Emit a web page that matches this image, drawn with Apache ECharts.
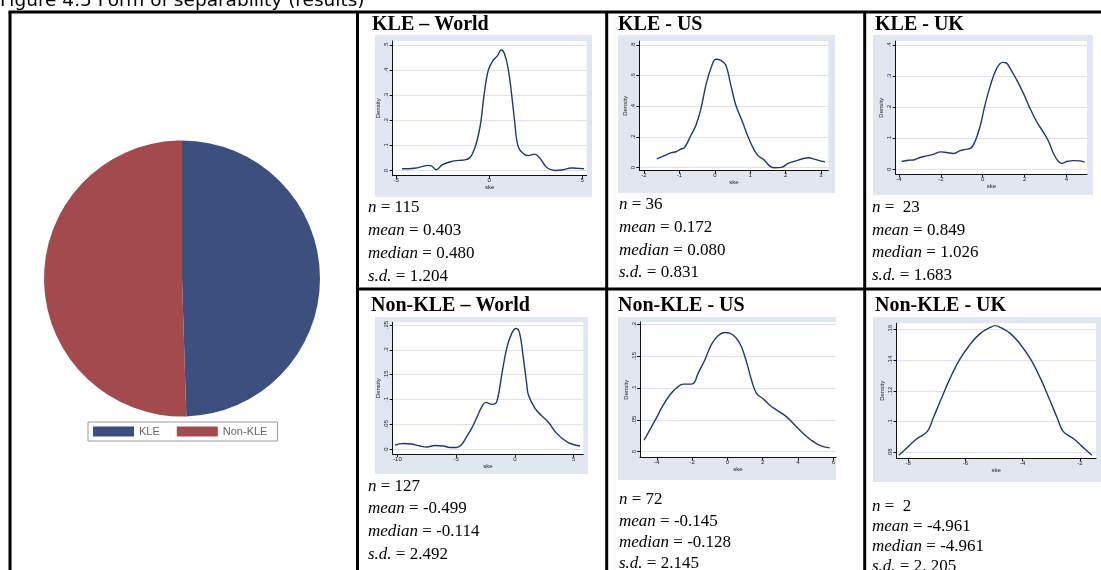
<!DOCTYPE html>
<html><head><meta charset="utf-8">
<script src="https://cdn.jsdelivr.net/npm/echarts@6/dist/echarts.min.js"></script>
<style>html,body{margin:0;padding:0;background:#fff}#c{width:1101px;height:570px}</style>
</head><body><div id="c"></div><script>
// ---------- data ----------
const pieCategories = ['KLE', 'Non-KLE'];
const pieShares = [49.5, 50.5];

const panelTitles = ['KLE \u2013 World', 'KLE - US', 'KLE - UK', 'Non-KLE \u2013 World', 'Non-KLE - US', 'Non-KLE - UK'];

const kleWorldX = [-4.68,-4.0,-3.55,-3.3,-3.1,-2.85,-2.5,-2.0,-1.6,-1.3,-1.03,-0.85,-0.72,-0.55,-0.43,-0.27,-0.04,0.2,0.45,0.65,0.83,1.04,1.22,1.37,1.55,1.8,2.1,2.45,2.75,3.1,3.55,4.0,4.4,4.65,5.1];
const kleWorldY = [0.008,0.010,0.017,0.021,0.019,0.004,0.024,0.037,0.041,0.043,0.052,0.075,0.100,0.150,0.200,0.300,0.400,0.437,0.457,0.480,0.465,0.400,0.300,0.200,0.100,0.070,0.060,0.066,0.048,0.013,0.001,0.004,0.011,0.010,0.008];

const kleUsX = [-1.64,-1.42,-1.23,-1.09,-0.98,-0.86,-0.67,-0.53,-0.39,-0.25,-0.11,0.03,0.17,0.31,0.45,0.59,0.78,0.96,1.2,1.38,1.57,1.71,1.88,2.07,2.27,2.46,2.64,2.83,3.0,3.11];
const kleUsY = [0.057,0.078,0.098,0.104,0.120,0.130,0.213,0.278,0.387,0.540,0.648,0.707,0.700,0.670,0.540,0.410,0.300,0.190,0.083,0.054,0.007,0.000,0.002,0.028,0.043,0.057,0.065,0.054,0.043,0.039];

const kleUkX = [-3.87,-3.55,-3.31,-3.0,-2.68,-2.36,-2.01,-1.72,-1.4,-1.08,-0.84,-0.57,-0.37,-0.13,0.11,0.35,0.67,0.96,1.11,1.31,1.63,1.94,2.26,2.58,2.9,3.14,3.38,3.62,3.78,4.02,4.34,4.66,4.87];
const kleUkY = [0.025,0.029,0.030,0.038,0.043,0.048,0.056,0.054,0.051,0.060,0.064,0.068,0.089,0.137,0.207,0.266,0.325,0.344,0.343,0.325,0.287,0.245,0.196,0.153,0.119,0.091,0.051,0.025,0.019,0.025,0.028,0.027,0.023];

const nonKleWorldX = [-10.2,-9.49,-8.78,-8.07,-7.5,-6.8,-6.09,-5.52,-4.95,-4.53,-4.1,-3.67,-3.25,-2.82,-2.48,-1.92,-1.55,-1.12,-0.7,-0.27,0.07,0.38,0.72,1.0,1.15,1.71,2.28,2.85,3.42,3.98,4.55,5.12,5.54];
const nonKleWorldY = [0.008,0.011,0.010,0.006,0.004,0.007,0.006,0.003,0.003,0.009,0.025,0.042,0.063,0.085,0.094,0.090,0.095,0.150,0.203,0.233,0.243,0.235,0.183,0.132,0.109,0.082,0.067,0.054,0.035,0.022,0.013,0.008,0.006];

const nonKleUsX = [-4.72,-4.4,-4.02,-3.64,-3.26,-2.89,-2.51,-2.23,-1.94,-1.66,-1.28,-0.91,-0.53,-0.15,0.13,0.51,0.79,1.08,1.36,1.64,2.02,2.4,2.87,3.34,3.81,4.28,4.75,5.23,5.79];
const nonKleUsY = [0.018,0.034,0.053,0.073,0.089,0.100,0.106,0.106,0.107,0.123,0.144,0.168,0.182,0.187,0.186,0.178,0.165,0.141,0.113,0.092,0.083,0.073,0.064,0.055,0.042,0.029,0.018,0.010,0.006];

const nonKleUkX = [-8.33,-8.0,-7.71,-7.34,-7.13,-6.89,-6.54,-6.19,-5.84,-5.49,-5.14,-4.96,-4.78,-4.43,-4.08,-3.73,-3.38,-3.03,-2.79,-2.58,-2.21,-1.92,-1.58];
const nonKleUkY = [0.0782,0.0838,0.0887,0.0935,0.1022,0.1129,0.1280,0.1406,0.1500,0.1570,0.1610,0.1622,0.1610,0.1570,0.1500,0.1406,0.1280,0.1129,0.1022,0.0935,0.0887,0.0838,0.0782];

const xTicks = [[-5,0,5],[-2,-1,0,1,2,3],[-4,-2,0,2,4],[-10,-5,0,5],[-4,-2,0,2,4,6],[-8,-6,-4,-2]];
const yTicks = [[0,0.1,0.2,0.3,0.4,0.5],[0,0.2,0.4,0.6,0.8],[0,0.1,0.2,0.3,0.4],[0,0.05,0.1,0.15,0.2,0.25],[0,0.05,0.1,0.15,0.2],[0.08,0.1,0.12,0.14,0.16]];

const statN = ['115', '36', ' 23', '127', '72', ' 2'];
const statMean = ['0.403', '0.172', '0.849', '-0.499', '-0.145', '-4.961'];
const statMedian = ['0.480', '0.080', '1.026', '-0.114', '-0.128', '-4.961'];
const statSd = ['1.204', '0.831', '1.683', '2.492', '2.145', '2. 205'];

// ---------- layout (positions / styles) ----------
const curves = [[kleWorldX,kleWorldY],[kleUsX,kleUsY],[kleUkX,kleUkY],[nonKleWorldX,nonKleWorldY],[nonKleUsX,nonKleUsY],[nonKleUkX,nonKleUkY]];
const L = [
  {grid:[392.7,41,194,134.7], xr:[-5.18,5.25], yr:[-0.0199,0.516], bg:[375,35,217,162], head:[372,25], sx:368, sy:[208,231,254,277]},
  {grid:[639.3,41,189,129.7], xr:[-2.133,3.206], yr:[-0.0196,0.826], bg:[618,35,217,158], head:[618,25], sx:619, sy:[205,228,251,273]},
  {grid:[895.7,41,191.3,133.3], xr:[-4.157,4.983], yr:[-0.0161,0.4129], bg:[873,35,220,160], head:[875,25], sx:872, sy:[208,231,253,276]},
  {grid:[392.7,322.3,190.6,131.7], xr:[-10.4,5.82], yr:[-0.0101,0.2554], bg:[375,317,213,157], head:[371,305.5], sx:368, sy:[487,509,532,555]},
  {grid:[640,322,196,135.3], xr:[-4.95,6.15], yr:[-0.0088,0.2036], bg:[618,317,218,163], head:[618,305.5], sx:619, sy:[500,522,543,564]},
  {grid:[896.5,323.3,199.5,135], xr:[-8.41,-1.44], yr:[0.07624,0.1637], bg:[873,317,228,165], head:[875,305.5], sx:872, sy:[507,527,547,567]}
];
const NAVY = '#24386c', PANEL_BG = '#e1e6f0', GRIDC = '#dde3ee';
const fmtY = v => { if (Math.abs(v) < 1e-9) return '0'; const s = String(Math.round(v * 1000) / 1000); return s.replace(/^0\./, '.').replace(/^-0\./, '-.'); };
const fmtX = v => String(Math.round(v * 1000) / 1000);
const SERIF = 'Liberation Serif';

const grids = [], xAxes = [], yAxes = [], series = [], graphics = [];
L.forEach((p, i) => {
  grids.push({left: p.grid[0], top: p.grid[1], width: p.grid[2], height: p.grid[3], show: true, backgroundColor: '#fff', borderWidth: 0});
  xAxes.push({type: 'value', gridIndex: i, min: p.xr[0], max: p.xr[1],
    axisLine: {show: true, onZero: false, lineStyle: {color: '#111', width: 1}},
    axisTick: {show: true, length: 3, customValues: xTicks[i], lineStyle: {color: '#111', width: 1}},
    axisLabel: {customValues: xTicks[i], fontSize: 6, margin: 2, color: '#222', fontFamily: 'Liberation Sans', formatter: fmtX},
    splitLine: {show: false},
    name: 'ske', nameLocation: 'middle', nameGap: 9, nameTextStyle: {fontSize: 6, color: '#222', fontFamily: 'Liberation Sans'}});
  yAxes.push({type: 'value', gridIndex: i, min: p.yr[0], max: p.yr[1],
    axisLine: {show: true, onZero: false, lineStyle: {color: '#111', width: 1}},
    axisTick: {show: true, length: 3, customValues: yTicks[i], lineStyle: {color: '#111', width: 1}},
    axisLabel: {customValues: yTicks[i], fontSize: 6, margin: 3, rotate: 90, color: '#222', fontFamily: 'Liberation Sans', formatter: fmtY},
    splitLine: {show: true, lineStyle: {color: GRIDC, width: 1}},
    name: 'Density', nameLocation: 'middle', nameGap: 11, nameRotate: 90, nameTextStyle: {fontSize: 6, color: '#222', fontFamily: 'Liberation Sans'}});
  series.push({type: 'line', xAxisIndex: i, yAxisIndex: i, data: curves[i][0].map((x, k) => [x, curves[i][1][k]]),
    showSymbol: false, smooth: 0.4, clip: false, silent: true,
    lineStyle: {color: NAVY, width: 1.4}, z: 3});
  graphics.push({type: 'rect', z: -10, silent: true, shape: {x: p.bg[0], y: p.bg[1], width: p.bg[2], height: p.bg[3]}, style: {fill: PANEL_BG}});
  graphics.push({type: 'text', z: 50, silent: true, x: p.head[0], y: p.head[1],
    style: {text: panelTitles[i], fontFamily: SERIF, fontWeight: 'bold', fontSize: 20, fill: '#000', verticalAlign: 'middle'}});
  const lines = [['n', statN[i]], ['mean', statMean[i]], ['median', statMedian[i]], ['s.d.', statSd[i]]];
  lines.forEach((ln, k) => {
    graphics.push({type: 'text', z: 50, silent: true, x: p.sx, y: p.sy[k],
      style: {text: '{i|' + ln[0] + '} = ' + ln[1], fontFamily: SERIF, fontSize: 17, fill: '#000', verticalAlign: 'middle',
        rich: {i: {fontFamily: SERIF, fontSize: 17, fontStyle: 'italic', fill: '#000'}}}});
  });
});

// pie
series.push({type: 'pie', center: [182, 278.5], radius: 138, startAngle: 90, clockwise: true,
  label: {show: false}, labelLine: {show: false}, emphasis: {disabled: true}, silent: true,
  itemStyle: {borderWidth: 0},
  data: pieCategories.map((n, i) => ({name: n, value: pieShares[i]}))});

// title and table lines
graphics.push({type: 'text', z: 50, silent: true, x: 0, y: 0.8,
  style: {text: 'Figure 4.5 Form of separability (results)', fontFamily: 'DejaVu Sans', fontSize: 18.5, fill: '#000', verticalAlign: 'middle'}});
const blk = {stroke: '#000', lineWidth: 3};
[[10, 12, 10, 570], [8.5, 12, 1101, 12], [357.5, 12, 357.5, 570], [606.7, 12, 606.7, 570], [864.7, 12, 864.7, 570], [357.5, 289, 1101, 289]]
  .forEach(s => graphics.push({type: 'line', z: 100, silent: true, shape: {x1: s[0], y1: s[1], x2: s[2], y2: s[3]}, style: blk}));

const chart = echarts.init(document.getElementById('c'), null, {renderer: 'canvas'});
chart.setOption({
  animation: false,
  backgroundColor: '#fff',
  color: ['#3c5080', '#a34a4c'],
  legend: {data: pieCategories, left: 88, top: 422, orient: 'horizontal', icon: 'rect', itemWidth: 41, itemHeight: 10, itemGap: 17,
    padding: [4, 10, 4, 5], borderColor: '#999', borderWidth: 1, backgroundColor: '#fff', selectedMode: false,
    textStyle: {fontFamily: 'Liberation Sans', fontSize: 11, color: '#666'}},
  grid: grids, xAxis: xAxes, yAxis: yAxes, series: series, graphic: graphics
});
</script></body></html>
